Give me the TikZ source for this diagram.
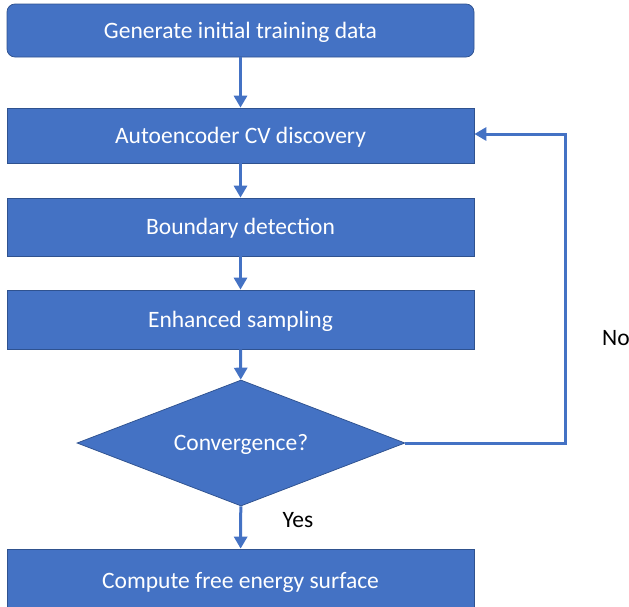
\documentclass[tikz,border=0pt]{standalone}
\usepackage{fontspec}
\setmainfont{Carlito}
\usetikzlibrary{arrows.meta,shapes.geometric}
\definecolor{officeblue}{HTML}{4472C4}
\definecolor{officeedge}{HTML}{2F528F}

\begin{document}
\begin{tikzpicture}[x=1pt,y=-1pt,
  box/.style={draw=officeedge,line width=0.75pt,fill=officeblue,text=white,
    minimum width=467pt,inner sep=0pt,text height=15pt,text depth=0pt,
    font=\fontsize{23.5}{28}\selectfont},
  decision/.style={diamond,draw=officeedge,line width=0.75pt,fill=officeblue,text=white,
    aspect=2.6,inner sep=0pt,minimum width=328pt,minimum height=126pt,
    text height=15pt,text depth=0pt,font=\fontsize{23.5}{28}\selectfont},
  link/.style={draw=officeblue,line width=3pt,-{Triangle[length=12pt,width=13pt]}},
  tag/.style={text=black,font=\fontsize{23.5}{28}\selectfont}]

\useasboundingbox (0,0) rectangle (629,606);

\node[box,rounded corners=8pt,minimum height=53pt] (gen) at (240.5,30.5) {Generate initial training data};
\node[box,minimum height=55pt] (ae) at (240.5,135.5) {Autoencoder CV discovery};
\node[box,minimum height=58pt] (bd) at (240.5,227) {Boundary detection};
\node[box,minimum height=59pt] (es) at (240.5,319.5) {Enhanced sampling};
\node[decision] (conv) at (241,443) {Convergence?};
\node[box,minimum height=63pt] (fes) at (240.5,580.5) {Compute free energy surface};

\draw[link] (gen) -- (ae);
\draw[link] (ae) -- (bd);
\draw[link] (bd) -- (es);
\draw[link] (es) -- (conv);
\draw[link] (conv) -- (fes);

% loop back when not converged
\coordinate (turn) at (565,134);
\draw[link] (conv.east) -| (turn) -- (turn -| ae.east);

\node[tag] (yes) at (298,520) {Yes};
\node[tag] (no) at (616,338) {No};

\end{tikzpicture}
\end{document}
